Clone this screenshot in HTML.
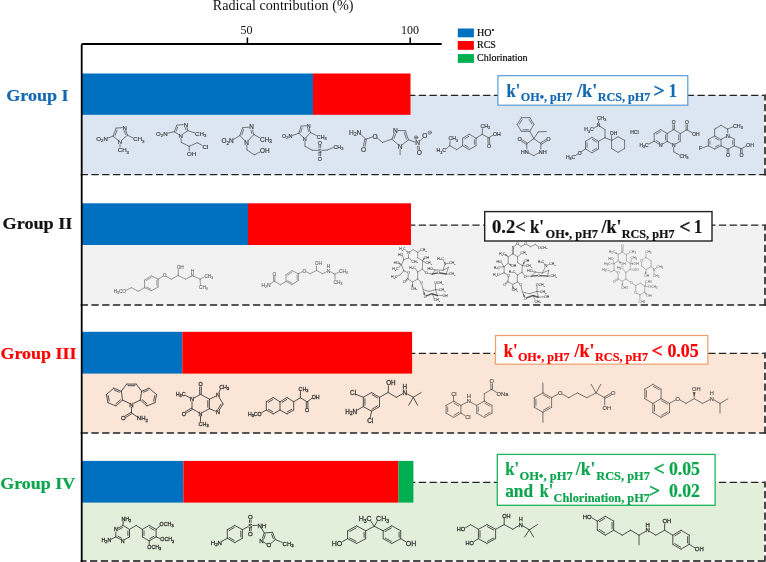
<!DOCTYPE html>
<html><head><meta charset="utf-8"><title>Radical contribution</title>
<style>html,body{margin:0;padding:0;background:#fff}svg{display:block}</style></head>
<body><svg width="766" height="562" viewBox="0 0 766 562">
<rect width="766" height="562" fill="#fff"/>
<rect x="82" y="95.3" width="682.2" height="79.39999999999999" fill="#dce6f2"/>
<path d="M408.05 95.3H765.8" fill="none" stroke="#222" stroke-width="1.3" stroke-dasharray="7.3 3.42"/>
<path d="M765.1 94.6V175.39999999999998" fill="none" stroke="#4a4a4a" stroke-width="2.2" stroke-dasharray="7.3 3.47" stroke-dashoffset="1.4"/>
<path d="M80.63 174.7H765.8" fill="none" stroke="#222" stroke-width="1.3" stroke-dasharray="7.3 3.47"/>
<rect x="82" y="225.2" width="682.2" height="79.80000000000001" fill="#f2f2f2"/>
<path d="M408.05 225.2H765.8" fill="none" stroke="#222" stroke-width="1.3" stroke-dasharray="7.3 3.42"/>
<path d="M765.1 224.5V305.7" fill="none" stroke="#4a4a4a" stroke-width="2.2" stroke-dasharray="7.3 3.47" stroke-dashoffset="1.4"/>
<path d="M80.63 305.0H765.8" fill="none" stroke="#222" stroke-width="1.3" stroke-dasharray="7.3 3.47"/>
<rect x="82" y="353.3" width="682.2" height="79.69999999999999" fill="#fbe5d6"/>
<path d="M408.05 353.3H765.8" fill="none" stroke="#222" stroke-width="1.3" stroke-dasharray="7.3 3.42"/>
<path d="M765.1 352.6V433.7" fill="none" stroke="#4a4a4a" stroke-width="2.2" stroke-dasharray="7.3 3.47" stroke-dashoffset="1.4"/>
<path d="M80.63 433.0H765.8" fill="none" stroke="#222" stroke-width="1.3" stroke-dasharray="7.3 3.47"/>
<rect x="82" y="482.3" width="682.2" height="78.40000000000003" fill="#e2efda"/>
<path d="M408.05 482.3H765.8" fill="none" stroke="#222" stroke-width="1.3" stroke-dasharray="7.3 3.42"/>
<path d="M765.1 481.6V561.4000000000001" fill="none" stroke="#4a4a4a" stroke-width="2.2" stroke-dasharray="7.3 3.47" stroke-dashoffset="1.4"/>
<path d="M80.63 561.0H765.8" fill="none" stroke="#4a4a4a" stroke-width="2.2" stroke-dasharray="7.3 3.47" stroke-dashoffset="1.4"/>
<rect x="82" y="73.5" width="231" height="41.3" fill="#0070c0"/>
<rect x="313" y="73.5" width="97.5" height="41.3" fill="#ff0000"/>
<rect x="82" y="203.3" width="166" height="41.69999999999999" fill="#0070c0"/>
<rect x="248" y="203.3" width="163" height="41.69999999999999" fill="#ff0000"/>
<rect x="82" y="331.8" width="100.30000000000001" height="41.80000000000001" fill="#0070c0"/>
<rect x="182.3" y="331.8" width="229.8" height="41.80000000000001" fill="#ff0000"/>
<rect x="82" y="460.9" width="101.4" height="41.700000000000045" fill="#0070c0"/>
<rect x="183.4" y="460.9" width="215.1" height="41.700000000000045" fill="#ff0000"/>
<rect x="398.5" y="460.9" width="14.899999999999977" height="41.700000000000045" fill="#00b050"/>
<path d="M81.7 562V45.2Q81.7 44 83 44H441.7" fill="none" stroke="#000" stroke-width="1.8"/>
<path d="M247.4 44V37.6M410.2 44V37.6" stroke="#000" stroke-width="1.5"/>
<text x="212.8" y="9.9" textLength="140.6" lengthAdjust="spacingAndGlyphs" font-family='"Liberation Serif", serif' font-size="14" fill="#111">Radical contribution (%)</text>
<text x="246.6" y="34.2" font-family='"Liberation Serif", serif' font-size="12" text-anchor="middle" fill="#111">50</text>
<text x="410" y="34.4" font-family='"Liberation Serif", serif' font-size="12" text-anchor="middle" fill="#111">100</text>
<rect x="457.8" y="28.5" width="16.1" height="8.8" fill="#0070c0"/>
<rect x="457.8" y="41" width="16.1" height="8.8" fill="#ff0000"/>
<rect x="457.8" y="54.1" width="16.1" height="8.8" fill="#00b050"/>
<text x="477" y="36.1" font-family='"Liberation Serif", serif' font-size="10" fill="#000" stroke="#000" stroke-width="0.15">HO<tspan dy="-3" font-size="8">•</tspan></text>
<text x="477" y="48.4" font-family='"Liberation Serif", serif' font-size="10" fill="#000" stroke="#000" stroke-width="0.15">RCS</text>
<text x="477" y="60.9" font-family='"Liberation Serif", serif' font-size="10" fill="#000" stroke="#000" stroke-width="0.15">Chlorination</text>
<text x="6.2" y="100.8" textLength="62.39999999999999" lengthAdjust="spacingAndGlyphs" font-family='"Liberation Serif", serif' font-weight="bold" font-size="17.5" fill="#1268b3" stroke="#1268b3" stroke-width="0.2">Group I</text>
<text x="2.5" y="229.2" textLength="69.9" lengthAdjust="spacingAndGlyphs" font-family='"Liberation Serif", serif' font-weight="bold" font-size="17.5" fill="#111" stroke="#111" stroke-width="0.2">Group II</text>
<text x="0.5" y="358.9" textLength="75.9" lengthAdjust="spacingAndGlyphs" font-family='"Liberation Serif", serif' font-weight="bold" font-size="17.5" fill="#ff0000" stroke="#ff0000" stroke-width="0.2">Group III</text>
<text x="0.2" y="488.9" textLength="74.89999999999999" lengthAdjust="spacingAndGlyphs" font-family='"Liberation Serif", serif' font-weight="bold" font-size="17.5" fill="#0ba54c" stroke="#0ba54c" stroke-width="0.2">Group IV</text>
<rect x="497.9" y="75.7" width="189.89999999999998" height="29.5" fill="#fff" stroke="#5b9bd5" stroke-width="1.2"/>
<text x="506.5" y="96.6" textLength="13.8" lengthAdjust="spacingAndGlyphs" font-family='"Liberation Serif", serif' font-weight="bold" font-size="17.8" fill="#1268b3" stroke="#1268b3" stroke-width="0.2">k'</text>
<text x="520.8" y="101.3" textLength="51.6" lengthAdjust="spacingAndGlyphs" font-family='"Liberation Serif", serif' font-weight="bold" font-size="13" fill="#1268b3" stroke="#1268b3" stroke-width="0.2">OH•, pH7</text>
<text x="577" y="96.6" textLength="20.2" lengthAdjust="spacingAndGlyphs" font-family='"Liberation Serif", serif' font-weight="bold" font-size="17.8" fill="#1268b3" stroke="#1268b3" stroke-width="0.2">/k'</text>
<text x="597.7" y="101.3" textLength="52.6" lengthAdjust="spacingAndGlyphs" font-family='"Liberation Serif", serif' font-weight="bold" font-size="13" fill="#1268b3" stroke="#1268b3" stroke-width="0.2">RCS, pH7</text>
<text x="653.8" y="96.6" textLength="10.8" lengthAdjust="spacingAndGlyphs" font-family='"Liberation Serif", serif' font-weight="bold" font-size="18.7" fill="#1268b3" stroke="#1268b3" stroke-width="0.45">&gt;</text>
<text x="668.8" y="96.6" textLength="8.2" lengthAdjust="spacingAndGlyphs" font-family='"Liberation Serif", serif' font-weight="bold" font-size="18.7" fill="#1268b3" stroke="#1268b3" stroke-width="0.2">1</text>
<rect x="484.7" y="211.6" width="227.3" height="29.400000000000006" fill="#fff" stroke="#222" stroke-width="1.4"/>
<text x="492.0" y="233.2" textLength="33.8" lengthAdjust="spacingAndGlyphs" font-family='"Liberation Serif", serif' font-weight="bold" font-size="18.7" fill="#111" stroke="#111" stroke-width="0.2">0.2&lt;</text>
<text x="530.0" y="233.2" textLength="14.0" lengthAdjust="spacingAndGlyphs" font-family='"Liberation Serif", serif' font-weight="bold" font-size="17.8" fill="#111" stroke="#111" stroke-width="0.2">k'</text>
<text x="545.5" y="238.3" textLength="52.5" lengthAdjust="spacingAndGlyphs" font-family='"Liberation Serif", serif' font-weight="bold" font-size="13" fill="#111" stroke="#111" stroke-width="0.2">OH•, pH7</text>
<text x="601.6" y="233.4" textLength="19.9" lengthAdjust="spacingAndGlyphs" font-family='"Liberation Serif", serif' font-weight="bold" font-size="17.8" fill="#111" stroke="#111" stroke-width="0.2">/k'</text>
<text x="621.7" y="238.3" textLength="52.9" lengthAdjust="spacingAndGlyphs" font-family='"Liberation Serif", serif' font-weight="bold" font-size="13" fill="#111" stroke="#111" stroke-width="0.2">RCS, pH7</text>
<text x="679.6" y="233.4" textLength="10.8" lengthAdjust="spacingAndGlyphs" font-family='"Liberation Serif", serif' font-weight="bold" font-size="18.7" fill="#111" stroke="#111" stroke-width="0.45">&lt;</text>
<text x="693.9" y="233.4" textLength="8.2" lengthAdjust="spacingAndGlyphs" font-family='"Liberation Serif", serif' font-weight="bold" font-size="18.7" fill="#111" stroke="#111" stroke-width="0.2">1</text>
<rect x="495.5" y="335.5" width="212.29999999999995" height="28.69999999999999" fill="#fff" stroke="#f0a070" stroke-width="1.25"/>
<text x="503.8" y="356.5" textLength="13.8" lengthAdjust="spacingAndGlyphs" font-family='"Liberation Serif", serif' font-weight="bold" font-size="17.8" fill="#ff0000" stroke="#ff0000" stroke-width="0.2">k'</text>
<text x="517.9" y="361.2" textLength="51.7" lengthAdjust="spacingAndGlyphs" font-family='"Liberation Serif", serif' font-weight="bold" font-size="13" fill="#ff0000" stroke="#ff0000" stroke-width="0.2">OH•, pH7</text>
<text x="574.6" y="356.5" textLength="20.0" lengthAdjust="spacingAndGlyphs" font-family='"Liberation Serif", serif' font-weight="bold" font-size="17.8" fill="#ff0000" stroke="#ff0000" stroke-width="0.2">/k'</text>
<text x="595.0" y="361.2" textLength="53.0" lengthAdjust="spacingAndGlyphs" font-family='"Liberation Serif", serif' font-weight="bold" font-size="13" fill="#ff0000" stroke="#ff0000" stroke-width="0.2">RCS, pH7</text>
<text x="651.8" y="356.5" textLength="10.8" lengthAdjust="spacingAndGlyphs" font-family='"Liberation Serif", serif' font-weight="bold" font-size="18.7" fill="#ff0000" stroke="#ff0000" stroke-width="0.45">&lt;</text>
<text x="667.4" y="356.5" textLength="31.3" lengthAdjust="spacingAndGlyphs" font-family='"Liberation Serif", serif' font-weight="bold" font-size="18.7" fill="#ff0000" stroke="#ff0000" stroke-width="0.2">0.05</text>
<rect x="497.3" y="454.4" width="217.8" height="50.900000000000034" fill="#fff" stroke="#1fb35f" stroke-width="1.3"/>
<text x="505.2" y="475.4" textLength="13.8" lengthAdjust="spacingAndGlyphs" font-family='"Liberation Serif", serif' font-weight="bold" font-size="17.8" fill="#0ba54c" stroke="#0ba54c" stroke-width="0.2">k'</text>
<text x="519.5" y="480.1" textLength="53.3" lengthAdjust="spacingAndGlyphs" font-family='"Liberation Serif", serif' font-weight="bold" font-size="13" fill="#0ba54c" stroke="#0ba54c" stroke-width="0.2">OH•, pH7</text>
<text x="575.8" y="475.4" textLength="19.5" lengthAdjust="spacingAndGlyphs" font-family='"Liberation Serif", serif' font-weight="bold" font-size="17.8" fill="#0ba54c" stroke="#0ba54c" stroke-width="0.2">/k'</text>
<text x="596.2" y="480.1" textLength="53.7" lengthAdjust="spacingAndGlyphs" font-family='"Liberation Serif", serif' font-weight="bold" font-size="13" fill="#0ba54c" stroke="#0ba54c" stroke-width="0.2">RCS, pH7</text>
<text x="653.7" y="475.4" textLength="10.8" lengthAdjust="spacingAndGlyphs" font-family='"Liberation Serif", serif' font-weight="bold" font-size="17.9" fill="#0ba54c" stroke="#0ba54c" stroke-width="0.45">&lt;</text>
<text x="668.9" y="475.4" textLength="31.1" lengthAdjust="spacingAndGlyphs" font-family='"Liberation Serif", serif' font-weight="bold" font-size="17.9" fill="#0ba54c" stroke="#0ba54c" stroke-width="0.2">0.05</text>
<text x="505.2" y="496.9" textLength="27.9" lengthAdjust="spacingAndGlyphs" font-family='"Liberation Serif", serif' font-weight="bold" font-size="17.8" fill="#0ba54c" stroke="#0ba54c" stroke-width="0.2">and</text>
<text x="539.8" y="496.9" textLength="13.4" lengthAdjust="spacingAndGlyphs" font-family='"Liberation Serif", serif' font-weight="bold" font-size="17.8" fill="#0ba54c" stroke="#0ba54c" stroke-width="0.2">k'</text>
<text x="553.6" y="501.6" textLength="96.3" lengthAdjust="spacingAndGlyphs" font-family='"Liberation Serif", serif' font-weight="bold" font-size="13" fill="#0ba54c" stroke="#0ba54c" stroke-width="0.2">Chlorination, pH7</text>
<text x="649.2" y="496.9" textLength="10.8" lengthAdjust="spacingAndGlyphs" font-family='"Liberation Serif", serif' font-weight="bold" font-size="17.9" fill="#0ba54c" stroke="#0ba54c" stroke-width="0.45">&gt;</text>
<text x="668.9" y="496.9" textLength="31.1" lengthAdjust="spacingAndGlyphs" font-family='"Liberation Serif", serif' font-weight="bold" font-size="17.9" fill="#0ba54c" stroke="#0ba54c" stroke-width="0.2">0.02</text>
<g stroke="#585858" fill="none" stroke-linecap="round" opacity="1">
<path stroke-width="0.8" d="M122.3 127.6L116.1 128.1M116.1 128.1L113.1 136.1M117.1 130.0L115.1 135.4M113.1 136.1L117.9 140.1M122.0 140.0L127.4 135.2M127.4 135.2L125.7 130.1M125.5 134.4L124.2 130.6M127.4 135.2L133.2 138.0M113.1 136.1L108.1 138.0M120.0 144.7L120.0 147.3"/>
</g>
<g font-family='"Liberation Sans", sans-serif' fill="#3c3c3c" stroke="#3c3c3c" stroke-width="0.18" opacity="1">
<text x="124.8" y="129.6" font-size="6.1" text-anchor="middle">N</text>
<text x="120.0" y="144.0" font-size="6.1" text-anchor="middle">N</text>
<text x="133.3" y="141.3" font-size="6.1" text-anchor="start">CH<tspan font-size="4.39" dy="1.34">3</tspan></text>
<text x="107.8" y="141.1" font-size="6.1" text-anchor="end">O<tspan font-size="4.39" dy="1.34">2</tspan><tspan dy="-1.34">N</tspan></text>
<text x="117.8" y="152.4" font-size="6.1" text-anchor="start">CH<tspan font-size="4.39" dy="1.34">3</tspan></text>
</g>
<g stroke="#585858" fill="none" stroke-linecap="round" opacity="1">
<path stroke-width="0.8" d="M183.3 124.6L176.8 125.2M176.8 125.2L174.2 131.7M177.7 127.1L176.2 131.0M174.2 131.7L178.4 134.3M182.9 134.1L187.9 130.7M187.9 130.7L186.8 127.2M185.9 129.8L185.2 127.6M187.9 130.7L194.8 132.9M174.2 131.7L167.9 133.1M181.0 138.5L181.3 142.4M181.3 142.4L189.2 146.3M189.2 146.3L189.2 150.8M189.2 146.3L197.3 142.7M197.3 142.7L202.3 145.4"/>
</g>
<g font-family='"Liberation Sans", sans-serif' fill="#3c3c3c" stroke="#3c3c3c" stroke-width="0.18" opacity="1">
<text x="185.9" y="126.6" font-size="6.1" text-anchor="middle">N</text>
<text x="180.7" y="137.8" font-size="6.1" text-anchor="middle">N</text>
<text x="195.1" y="135.9" font-size="6.1" text-anchor="start">CH<tspan font-size="4.39" dy="1.34">3</tspan></text>
<text x="167.6" y="135.9" font-size="6.1" text-anchor="end">O<tspan font-size="4.39" dy="1.34">2</tspan><tspan dy="-1.34">N</tspan></text>
<text x="187.0" y="156.0" font-size="6.1" text-anchor="start">OH</text>
<text x="202.4" y="148.9" font-size="6.1" text-anchor="start">Cl</text>
</g>
<g stroke="#585858" fill="none" stroke-linecap="round" opacity="1">
<path stroke-width="0.8" d="M248.9 127.2L242.7 127.7M242.7 127.7L239.8 135.6M243.7 129.6L241.8 134.8M239.8 135.6L244.5 140.2M248.6 140.1L253.9 134.6M253.9 134.6L252.5 129.9M251.9 133.7L250.9 130.4M253.9 134.6L259.8 137.8M239.8 135.6L233.7 139.4M246.7 145.2L247.0 150.0M247.0 150.0L254.2 154.8M254.2 154.8L259.9 152.1"/>
</g>
<g font-family='"Liberation Sans", sans-serif' fill="#3c3c3c" stroke="#3c3c3c" stroke-width="0.18" opacity="1">
<text x="251.6" y="129.3" font-size="6.4" text-anchor="middle">N</text>
<text x="246.6" y="144.5" font-size="6.4" text-anchor="middle">N</text>
<text x="260.0" y="141.5" font-size="6.4" text-anchor="start">CH<tspan font-size="4.61" dy="1.41">3</tspan></text>
<text x="233.6" y="143.2" font-size="6.4" text-anchor="end">O<tspan font-size="4.61" dy="1.41">2</tspan><tspan dy="-1.41">N</tspan></text>
<text x="260.1" y="153.2" font-size="6.4" text-anchor="start">OH</text>
</g>
<g stroke="#585858" fill="none" stroke-linecap="round" opacity="1">
<path stroke-width="0.8" d="M306.4 125.8L301.1 126.1M301.1 126.1L298.8 133.3M302.2 128.0L300.7 132.4M298.8 133.3L303.0 137.1M306.4 137.0L310.5 132.6M310.5 132.6L309.3 128.2M308.6 131.6L307.8 128.6M310.5 132.6L316.6 135.5M298.8 133.3L292.6 135.4M304.9 141.3L305.0 146.3M305.0 146.3L312.2 150.2M312.2 150.2L317.5 150.4M320.6 147.9L320.6 145.3M319.0 147.9L319.0 145.3M319.0 153.1L319.0 156.1M320.6 153.1L320.6 156.1M322.0 150.4L327.2 150.0M327.2 150.0L333.2 147.6"/>
</g>
<g font-family='"Liberation Sans", sans-serif' fill="#3c3c3c" stroke="#3c3c3c" stroke-width="0.18" opacity="1">
<text x="308.7" y="127.6" font-size="5.4" text-anchor="middle">N</text>
<text x="304.8" y="140.7" font-size="5.4" text-anchor="middle">N</text>
<text x="316.8" y="138.5" font-size="5.4" text-anchor="start">CH<tspan font-size="3.89" dy="1.19">3</tspan></text>
<text x="292.3" y="138.1" font-size="5.4" text-anchor="end">O<tspan font-size="3.89" dy="1.19">2</tspan><tspan dy="-1.19">N</tspan></text>
<text x="319.8" y="152.5" font-size="5.4" text-anchor="middle">S</text>
<text x="319.8" y="144.6" font-size="5.4" text-anchor="middle">O</text>
<text x="319.8" y="160.7" font-size="5.4" text-anchor="middle">O</text>
<text x="333.4" y="148.7" font-size="5.4" text-anchor="start">CH<tspan font-size="3.89" dy="1.19">3</tspan></text>
</g>
<g stroke="#585858" fill="none" stroke-linecap="round" opacity="1">
<path stroke-width="0.8" d="M361.1 134.7L365.7 139.2M364.9 139.0L363.4 146.0M366.5 139.3L365.0 146.3M365.7 139.2L372.3 137.0M377.2 138.0L382.4 142.4M382.4 142.4L392.0 139.2M392.0 139.2L394.3 133.3M394.0 138.4L395.8 133.9M398.3 130.5L405.3 130.7M405.3 130.7L408.5 139.8M404.3 132.6L406.5 139.0M408.5 139.8L402.4 144.6M397.9 144.4L392.0 139.2M400.1 149.5L400.1 154.8M408.5 139.8L415.0 142.1M419.8 141.0L422.8 138.0M417.4 146.3L418.0 149.6M419.0 146.0L419.6 149.4"/>
<path stroke-width="0.64" d="M415.1 137.5L417.1 137.5M416.1 136.4L416.1 138.5M428.8 132.6L430.8 132.6"/>
<circle cx="416.1" cy="137.5" r="1.7" stroke-width="0.6400000000000001"/>
<circle cx="429.8" cy="132.6" r="1.7" stroke-width="0.6400000000000001"/>
</g>
<g font-family='"Liberation Sans", sans-serif' fill="#3c3c3c" stroke="#3c3c3c" stroke-width="0.18" opacity="1">
<text x="361.3" y="135.0" font-size="6.6" text-anchor="end">H<tspan font-size="4.75" dy="1.45">2</tspan><tspan dy="-1.45">N</tspan></text>
<text x="363.5" y="151.6" font-size="6.6" text-anchor="middle">O</text>
<text x="375.0" y="138.5" font-size="6.6" text-anchor="middle">O</text>
<text x="395.5" y="132.8" font-size="6.6" text-anchor="middle">N</text>
<text x="400.1" y="148.7" font-size="6.6" text-anchor="middle">N</text>
<text x="417.7" y="145.4" font-size="6.6" text-anchor="middle">N</text>
<text x="424.9" y="138.3" font-size="6.6" text-anchor="middle">O</text>
<text x="419.4" y="155.0" font-size="6.6" text-anchor="middle">O</text>
</g>
<g stroke="#585858" fill="none" stroke-linecap="round" opacity="1">
<path stroke-width="0.8" d="M445.9 149.0L449.8 145.7M449.8 145.7L450.1 141.0M449.8 145.7L456.8 149.6M456.8 149.6L462.6 145.7M462.6 145.7L462.6 138.2M462.6 138.2L469.2 134.2M464.7 138.8L468.8 136.3M469.2 134.2L476.0 138.2M476.0 138.2L476.0 145.7M474.4 139.7L474.4 144.2M476.0 145.7L469.2 149.6M469.2 149.6L462.6 145.7M468.8 147.5L464.7 145.0M476.0 138.2L482.2 134.3M482.2 134.3L482.4 128.6M482.2 134.3L488.7 137.8M488.7 137.8L493.0 135.1M487.9 137.9L488.1 143.9M489.5 137.8L489.7 143.8"/>
</g>
<g font-family='"Liberation Sans", sans-serif' fill="#3c3c3c" stroke="#3c3c3c" stroke-width="0.18" opacity="1">
<text x="446.0" y="152.4" font-size="5.2" text-anchor="end">H<tspan font-size="3.74" dy="1.14">3</tspan><tspan dy="-1.14">C</tspan></text>
<text x="448.4" y="140.4" font-size="5.2" text-anchor="start">CH<tspan font-size="3.74" dy="1.14">3</tspan></text>
<text x="480.6" y="128.0" font-size="5.2" text-anchor="start">CH<tspan font-size="3.74" dy="1.14">3</tspan></text>
<text x="493.0" y="135.8" font-size="5.2" text-anchor="start">OH</text>
<text x="489.0" y="148.2" font-size="5.2" text-anchor="middle">O</text>
</g>
<g stroke="#585858" fill="none" stroke-linecap="round" opacity="1">
<path stroke-width="0.8" d="M521.5 117.7L529.9 117.6M529.9 117.6L533.9 124.5M529.2 119.6L531.8 124.1M533.9 124.5L529.8 131.3M529.8 131.3L521.5 131.4M528.3 129.7L523.0 129.8M521.5 131.4L517.2 124.5M517.2 124.5L521.5 117.7M519.4 124.1L522.1 119.8M529.8 131.3L533.9 138.6M533.9 138.6L538.3 131.8M538.3 131.8L546.5 131.5M533.9 138.6L526.8 143.7M527.2 143.0L522.0 139.7M526.3 144.4L521.2 141.1M533.9 138.6L540.9 143.7M541.3 144.4L546.8 140.9M540.4 143.0L546.0 139.6M526.8 143.7L526.8 149.1M540.9 143.7L540.8 149.1M528.8 152.9L533.7 155.7M538.7 152.9L533.7 155.7"/>
</g>
<g font-family='"Liberation Sans", sans-serif' fill="#3c3c3c" stroke="#3c3c3c" stroke-width="0.18" opacity="1">
<text x="519.6" y="141.1" font-size="5.5" text-anchor="middle">O</text>
<text x="548.4" y="141.0" font-size="5.5" text-anchor="middle">O</text>
<text x="528.7" y="153.8" font-size="5.5" text-anchor="end">HN</text>
<text x="538.8" y="153.8" font-size="5.5" text-anchor="start">NH</text>
</g>
<g stroke="#585858" fill="none" stroke-linecap="round" opacity="1">
<path stroke-width="0.8" d="M598.6 123.0L598.7 120.5M596.7 126.5L593.6 128.4M600.3 126.6L605.0 129.6M605.0 129.6L605.0 137.7M605.0 137.7L611.6 140.3M611.6 140.3L611.6 148.5M611.6 148.5L618.1 152.4M618.1 152.4L624.6 148.5M624.6 148.5L624.6 140.3M624.6 140.3L618.1 136.8M618.1 136.8L611.6 140.3M611.6 140.3L611.6 135.6M605.0 137.7L598.5 141.3M598.5 141.3L592.0 137.4M596.5 142.0L592.4 139.5M592.0 137.4L585.5 141.3M585.5 141.3L585.5 148.9M587.1 142.8L587.1 147.5M585.5 148.9L592.0 152.8M592.0 152.8L598.5 148.9M592.4 150.7L596.5 148.3M598.5 148.9L598.5 141.3M585.5 148.9L581.4 151.6M577.7 154.0L575.3 155.6"/>
</g>
<g font-family='"Liberation Sans", sans-serif' fill="#3c3c3c" stroke="#3c3c3c" stroke-width="0.18" opacity="1">
<text x="598.5" y="127.2" font-size="5.0" text-anchor="middle">N</text>
<text x="597.0" y="119.9" font-size="5.0" text-anchor="start">CH<tspan font-size="3.6" dy="1.1">3</tspan></text>
<text x="593.5" y="131.4" font-size="5.0" text-anchor="end">H<tspan font-size="3.6" dy="1.1">3</tspan><tspan dy="-1.1">C</tspan></text>
<text x="609.8" y="135.0" font-size="5.0" text-anchor="start">OH</text>
<text x="579.6" y="154.6" font-size="5.0" text-anchor="middle">O</text>
<text x="575.2" y="158.5" font-size="5.0" text-anchor="end">H<tspan font-size="3.6" dy="1.1">3</tspan><tspan dy="-1.1">C</tspan></text>
<text x="634.4" y="134.3" font-size="5.0" text-anchor="middle">HCl</text>
</g>
<g stroke="#585858" fill="none" stroke-linecap="round" opacity="1">
<path stroke-width="0.8" d="M654.2 133.5L660.7 129.6M656.2 134.1L660.3 131.7M660.7 129.6L667.2 133.5M667.2 133.5L667.2 141.3M665.6 134.9L665.6 139.9M667.2 141.3L662.5 144.0M658.8 144.0L654.2 141.3M659.6 142.6L656.2 140.6M654.2 141.3L654.2 133.5M654.2 141.3L648.6 144.1M667.2 133.5L673.7 129.6M674.5 129.6L674.5 124.8M672.9 129.6L672.9 124.8M673.7 129.6L680.3 133.5M680.3 133.5L680.3 141.3M678.7 134.9L678.7 139.9M680.3 141.3L675.6 144.0M671.9 144.0L667.2 141.3M680.3 133.5L686.8 129.8M687.6 129.8L687.6 124.8M686.0 129.8L686.0 124.8M686.8 129.8L692.1 132.7M673.7 147.3L673.7 151.8M673.7 151.8L679.3 154.9"/>
</g>
<g font-family='"Liberation Sans", sans-serif' fill="#3c3c3c" stroke="#3c3c3c" stroke-width="0.18" opacity="1">
<text x="660.7" y="146.8" font-size="4.9" text-anchor="middle">N</text>
<text x="648.5" y="146.8" font-size="4.9" text-anchor="end">H<tspan font-size="3.53" dy="1.08">3</tspan><tspan dy="-1.08">C</tspan></text>
<text x="673.7" y="124.2" font-size="4.9" text-anchor="middle">O</text>
<text x="673.7" y="146.8" font-size="4.9" text-anchor="middle">N</text>
<text x="686.8" y="124.2" font-size="4.9" text-anchor="middle">O</text>
<text x="692.2" y="135.5" font-size="4.9" text-anchor="start">OH</text>
<text x="679.4" y="157.7" font-size="4.9" text-anchor="start">CH<tspan font-size="3.53" dy="1.08">3</tspan></text>
</g>
<g stroke="#585858" fill="none" stroke-linecap="round" opacity="1">
<path stroke-width="0.8" d="M714.7 129.1L721.0 125.3M721.0 125.3L727.6 129.1M727.6 129.1L727.8 133.1M726.0 136.8L721.0 139.5M721.0 139.5L714.7 136.0M719.0 140.2L715.2 138.1M714.7 136.0L714.7 129.1M727.6 129.1L732.8 126.8M714.7 136.0L708.3 139.5M708.3 139.5L708.3 145.8M709.9 140.9L709.9 144.4M708.3 145.8L714.7 149.1M714.7 149.1L721.0 145.8M715.2 147.0L719.0 145.1M721.0 145.8L721.0 139.5M708.3 145.8L702.7 147.8M730.0 136.8L734.3 139.1M734.3 139.1L734.3 145.8M732.7 140.6L732.7 144.4M734.3 145.8L728.0 149.1M728.0 149.1L721.0 145.8M727.2 149.1L727.2 152.9M728.8 149.1L728.8 152.9M734.3 145.8L741.3 148.7M740.5 148.8L740.6 152.9M742.1 148.7L742.2 152.9M741.3 148.7L745.9 146.3"/>
</g>
<g font-family='"Liberation Sans", sans-serif' fill="#3c3c3c" stroke="#3c3c3c" stroke-width="0.18" opacity="1">
<text x="728.0" y="137.6" font-size="5.3" text-anchor="middle">N</text>
<text x="733.0" y="127.9" font-size="5.3" text-anchor="start">CH<tspan font-size="3.82" dy="1.17">3</tspan></text>
<text x="700.6" y="150.4" font-size="5.3" text-anchor="middle">F</text>
<text x="728.0" y="157.3" font-size="5.3" text-anchor="middle">O</text>
<text x="741.5" y="157.3" font-size="5.3" text-anchor="middle">O</text>
<text x="746.1" y="147.2" font-size="5.3" text-anchor="start">OH</text>
</g>
<g stroke="#727272" fill="none" stroke-linecap="round" opacity="1">
<path stroke-width="0.7" d="M126.1 290.3L131.4 287.7M131.4 287.7L138.2 291.2M138.2 291.2L144.5 287.7M144.5 287.7L144.5 280.2M144.5 280.2L151.3 275.8M146.2 280.7L151.0 277.5M151.3 275.8L158.2 279.2M158.2 279.2L158.2 287.0M156.9 280.4L156.9 285.8M158.2 287.0L151.3 290.7M151.3 290.7L144.5 287.7M150.7 289.1L146.1 287.0M158.2 279.2L162.7 276.5M166.3 276.4L171.3 279.2M171.3 279.2L178.1 275.5M178.1 275.5L178.3 269.7M178.1 275.5L185.7 279.2M185.7 279.2L190.7 276.4M194.3 276.3L200.1 279.2M200.1 279.2L204.3 276.8M200.1 279.2L200.5 285.4"/>
</g>
<g font-family='"Liberation Sans", sans-serif' fill="#5a5a5a" stroke="#5a5a5a" stroke-width="0.08" opacity="1">
<text x="126.0" y="292.9" font-size="4.7" text-anchor="end">H<tspan font-size="3.38" dy="1.03">3</tspan><tspan dy="-1.03">CO</tspan></text>
<text x="164.5" y="277.2" font-size="4.7" text-anchor="middle">O</text>
<text x="176.7" y="269.2" font-size="4.7" text-anchor="start">OH</text>
<text x="192.5" y="277.2" font-size="4.7" text-anchor="middle">N</text>
<text x="204.4" y="277.5" font-size="4.7" text-anchor="start">CH<tspan font-size="3.38" dy="1.03">3</tspan></text>
<text x="199.0" y="289.4" font-size="4.7" text-anchor="start">CH<tspan font-size="3.38" dy="1.03">3</tspan></text>
<text x="192.5" y="272.9" font-size="4.7" text-anchor="middle">H</text>
</g>
<g stroke="#727272" fill="none" stroke-linecap="round" opacity="1">
<path stroke-width="0.7" d="M270.4 283.9L274.3 281.1M274.9 281.1L274.9 276.1M273.6 281.1L273.6 276.1M274.3 281.1L280.5 284.8M280.5 284.8L286.0 281.4M286.0 281.4L286.0 274.6M286.0 274.6L292.1 270.7M287.7 275.1L291.8 272.4M292.1 270.7L298.4 273.8M298.4 273.8L298.4 280.5M297.1 274.9L297.1 279.4M298.4 280.5L292.1 284.5M292.1 284.5L286.0 281.4M291.6 282.8L287.6 280.8M298.4 273.8L302.5 271.7M306.2 271.7L310.3 273.8M310.3 273.8L316.5 270.4M316.5 270.4L316.5 265.9M316.5 270.4L322.6 273.8M322.6 273.8L326.6 271.7M330.3 271.7L334.9 274.1M334.9 274.1L338.9 272.1M334.9 274.1L335.1 279.4"/>
</g>
<g font-family='"Liberation Sans", sans-serif' fill="#5a5a5a" stroke="#5a5a5a" stroke-width="0.08" opacity="1">
<text x="270.4" y="286.9" font-size="4.85" text-anchor="end">H<tspan font-size="3.49" dy="1.07">2</tspan><tspan dy="-1.07">N</tspan></text>
<text x="274.3" y="275.5" font-size="4.85" text-anchor="middle">O</text>
<text x="304.3" y="272.5" font-size="4.85" text-anchor="middle">O</text>
<text x="314.8" y="265.3" font-size="4.85" text-anchor="start">OH</text>
<text x="328.4" y="272.5" font-size="4.85" text-anchor="middle">N</text>
<text x="339.1" y="273.0" font-size="4.85" text-anchor="start">CH<tspan font-size="3.49" dy="1.07">3</tspan></text>
<text x="333.5" y="283.5" font-size="4.85" text-anchor="start">CH<tspan font-size="3.49" dy="1.07">3</tspan></text>
<text x="328.4" y="268.4" font-size="4.85" text-anchor="middle">H</text>
</g>
<g stroke="#5a5a5a" fill="none" stroke-linecap="round" opacity="1">
<path stroke-width="0.6" d="M407.4 252.0L405.5 250.0M409.7 252.2L413.2 249.6M413.2 249.6L417.7 252.3M417.7 252.3L420.2 250.5M417.7 252.3L417.7 257.9M417.7 257.9L422.6 260.8M422.6 260.8L425.4 262.4M422.6 260.8L422.4 269.0M422.4 269.0L425.1 272.0M422.4 269.0L417.7 272.0M417.7 272.0L415.3 268.6M417.7 272.0L417.7 279.0M417.7 279.0L420.3 281.5M417.7 279.0L412.6 282.0M412.6 282.0L407.9 279.0M407.6 278.6L405.2 280.5M408.3 279.4L405.9 281.4M407.9 279.0L408.3 274.5M407.1 272.2L403.8 270.8M403.8 270.8L400.3 274.9M400.3 274.9L397.5 276.1M403.8 270.8L401.5 264.9M401.5 264.9L398.5 267.7M401.5 264.9L403.8 259.6M403.8 259.6L402.6 255.9M403.8 259.6L408.5 257.9M408.5 257.9L411.4 260.4M408.5 257.9L408.5 254.8M427.6 273.3L432.2 274.0M432.2 274.0L435.3 270.0M435.3 270.0L443.2 270.2M443.2 270.2L448.5 267.3M448.5 267.3L446.1 274.0M435.3 270.0L432.8 269.2M443.2 270.2L444.5 265.3M444.3 262.2L443.2 259.9M446.4 263.6L448.8 263.3M446.1 274.0L448.7 274.0M421.8 284.2L423.2 289.6M437.3 295.5L435.5 289.6M435.5 289.6L429.1 291.4M429.1 291.4L423.2 289.6M435.5 289.6L435.5 284.2M435.5 289.6L438.8 290.0M437.3 295.5L442.3 295.5M432.0 293.7L434.3 298.7"/>
<path stroke-width="1.44" d="M446.1 274.0L439.9 273.0M437.0 273.1L432.2 274.0M426.4 295.8L432.0 293.7M432.0 293.7L437.3 295.5"/>
<path fill="#5a5a5a" stroke="none" d="M422.6 260.8L424.9 259.1L423.3 258.1Z"/>
<path fill="#5a5a5a" stroke="none" d="M412.6 282.0L411.4 286.7L413.3 286.8Z"/>
<path fill="#5a5a5a" stroke="none" d="M401.5 264.9L399.7 262.4L398.6 263.9Z"/>
<path fill="#5a5a5a" stroke="none" d="M423.2 289.6L423.6 294.9L425.5 294.4Z"/>
</g>
<g font-family='"Liberation Sans", sans-serif' fill="#505050" stroke="#505050" stroke-width="0.1" opacity="1">
<text x="408.5" y="254.4" font-size="3.5" text-anchor="middle">N</text>
<text x="405.6" y="250.1" font-size="3.5" text-anchor="end">H<tspan font-size="2.52" dy="0.77">3</tspan><tspan dy="-0.77">C</tspan></text>
<text x="420.2" y="250.9" font-size="3.5" text-anchor="start">CH<tspan font-size="2.52" dy="0.77">3</tspan></text>
<text x="423.7" y="258.5" font-size="3.5" text-anchor="start">OH</text>
<text x="425.5" y="264.4" font-size="3.5" text-anchor="start">CH<tspan font-size="2.52" dy="0.77">3</tspan></text>
<text x="426.1" y="274.4" font-size="3.5" text-anchor="middle">O</text>
<text x="415.6" y="268.5" font-size="3.5" text-anchor="end">H<tspan font-size="2.52" dy="0.77">3</tspan><tspan dy="-0.77">C</tspan></text>
<text x="421.4" y="283.8" font-size="3.5" text-anchor="middle">O</text>
<text x="411.0" y="289.7" font-size="3.5" text-anchor="start">CH<tspan font-size="2.52" dy="0.77">3</tspan></text>
<text x="404.4" y="283.2" font-size="3.5" text-anchor="middle">O</text>
<text x="408.5" y="274.0" font-size="3.5" text-anchor="middle">O</text>
<text x="397.4" y="277.9" font-size="3.5" text-anchor="end">H<tspan font-size="2.52" dy="0.77">3</tspan><tspan dy="-0.77">C</tspan></text>
<text x="399.2" y="263.5" font-size="3.5" text-anchor="end">HO</text>
<text x="398.6" y="270.1" font-size="3.5" text-anchor="end">H<tspan font-size="2.52" dy="0.77">3</tspan><tspan dy="-0.77">C</tspan></text>
<text x="403.3" y="255.6" font-size="3.5" text-anchor="end">HO</text>
<text x="411.4" y="262.6" font-size="3.5" text-anchor="start">CH<tspan font-size="2.52" dy="0.77">3</tspan></text>
<text x="438.5" y="274.0" font-size="3.5" text-anchor="middle">O</text>
<text x="432.7" y="270.1" font-size="3.5" text-anchor="end">HO</text>
<text x="444.9" y="265.0" font-size="3.5" text-anchor="middle">N</text>
<text x="443.8" y="259.7" font-size="3.5" text-anchor="end">H<tspan font-size="2.52" dy="0.77">3</tspan><tspan dy="-0.77">C</tspan></text>
<text x="449.0" y="264.4" font-size="3.5" text-anchor="start">CH<tspan font-size="2.52" dy="0.77">3</tspan></text>
<text x="449.0" y="275.2" font-size="3.5" text-anchor="start">CH<tspan font-size="2.52" dy="0.77">3</tspan></text>
<text x="425.0" y="297.5" font-size="3.5" text-anchor="middle">O</text>
<text x="434.3" y="283.8" font-size="3.5" text-anchor="start">OCH<tspan font-size="2.52" dy="0.77">3</tspan></text>
<text x="439.0" y="291.4" font-size="3.5" text-anchor="start">CH<tspan font-size="2.52" dy="0.77">3</tspan></text>
<text x="442.5" y="296.7" font-size="3.5" text-anchor="start">OH</text>
<text x="433.7" y="301.4" font-size="3.5" text-anchor="start">CH<tspan font-size="2.52" dy="0.77">3</tspan></text>
</g>
<g stroke="#5a5a5a" fill="none" stroke-linecap="round" opacity="1">
<path stroke-width="0.6" d="M513.5 253.8L513.5 249.3M512.4 253.8L512.4 249.3M514.1 246.6L516.1 244.8M518.5 244.6L521.1 246.5M521.1 246.5L524.5 244.5M527.1 244.6L530.5 246.7M530.5 246.7L535.2 244.4M535.2 244.4L538.1 246.4M512.9 253.8L517.6 256.7M517.6 256.7L520.6 254.2M517.6 256.7L517.6 262.6M517.6 262.6L522.3 265.5M522.3 265.5L525.6 265.9M522.3 265.5L522.0 272.3M522.0 272.3L524.1 275.0M522.0 272.3L517.3 275.1M517.3 275.1L515.1 272.6M517.3 275.1L517.3 282.0M517.3 282.0L519.6 283.6M517.3 282.0L512.9 284.5M512.9 284.5L507.9 281.7M507.5 281.3L505.5 282.9M508.2 282.1L506.2 283.8M507.9 281.7L508.4 277.2M507.3 274.7L504.1 272.8M504.1 272.8L499.6 274.6M504.1 272.8L504.1 266.7M504.1 266.7L501.5 262.7M504.1 266.7L500.3 267.1M504.1 266.7L508.2 263.2M508.2 263.2L508.2 256.7M508.2 256.7L512.9 253.8M526.5 276.3L531.7 276.1M531.7 276.1L535.2 272.0M535.2 272.0L542.3 273.1M542.3 273.1L548.8 270.2M548.8 270.2L547.6 276.1M535.2 272.0L532.6 271.4M542.3 273.1L545.1 267.5M545.0 264.7L543.7 262.8M547.2 265.4L549.2 264.4M547.6 276.1L550.2 276.1M521.1 286.2L522.3 291.9M538.2 297.2L537.0 291.4M537.0 291.4L529.4 293.7M529.4 293.7L522.3 291.9M537.0 291.4L537.0 286.2M537.0 291.4L539.7 291.7M538.2 297.2L543.8 296.8M532.9 295.5L535.1 299.9"/>
<path stroke-width="1.44" d="M547.6 276.1L540.2 275.6M537.3 275.6L531.7 276.1M526.6 297.9L532.9 295.5M532.9 295.5L538.2 297.2"/>
<path fill="#5a5a5a" stroke="none" d="M522.3 265.5L525.2 262.7L523.6 261.7Z"/>
<path fill="#5a5a5a" stroke="none" d="M512.9 284.5L512.0 288.5L513.9 288.5Z"/>
<path fill="#5a5a5a" stroke="none" d="M508.2 263.2L510.5 266.0L511.6 264.4Z"/>
<path fill="#5a5a5a" stroke="none" d="M508.2 256.7L505.9 253.7L504.7 255.2Z"/>
<path fill="#5a5a5a" stroke="none" d="M522.3 291.9L523.7 297.3L525.4 296.5Z"/>
</g>
<g font-family='"Liberation Sans", sans-serif' fill="#505050" stroke="#505050" stroke-width="0.1" opacity="1">
<text x="512.9" y="248.9" font-size="3.5" text-anchor="middle">N</text>
<text x="517.3" y="245.0" font-size="3.5" text-anchor="middle">O</text>
<text x="525.8" y="245.0" font-size="3.5" text-anchor="middle">O</text>
<text x="538.1" y="248.5" font-size="3.5" text-anchor="start">OCH<tspan font-size="2.52" dy="0.77">3</tspan></text>
<text x="520.5" y="254.4" font-size="3.5" text-anchor="start">CH<tspan font-size="2.52" dy="0.77">3</tspan></text>
<text x="524.0" y="262.1" font-size="3.5" text-anchor="start">OH</text>
<text x="525.8" y="267.3" font-size="3.5" text-anchor="start">CH<tspan font-size="2.52" dy="0.77">3</tspan></text>
<text x="525.0" y="277.6" font-size="3.5" text-anchor="middle">O</text>
<text x="515.3" y="272.6" font-size="3.5" text-anchor="end">H<tspan font-size="2.52" dy="0.77">3</tspan><tspan dy="-0.77">C</tspan></text>
<text x="520.8" y="285.8" font-size="3.5" text-anchor="middle">O</text>
<text x="511.7" y="291.4" font-size="3.5" text-anchor="start">CH<tspan font-size="2.52" dy="0.77">3</tspan></text>
<text x="504.7" y="285.6" font-size="3.5" text-anchor="middle">O</text>
<text x="508.6" y="276.8" font-size="3.5" text-anchor="middle">O</text>
<text x="499.5" y="276.4" font-size="3.5" text-anchor="end">H<tspan font-size="2.52" dy="0.77">3</tspan><tspan dy="-0.77">C</tspan></text>
<text x="501.8" y="262.6" font-size="3.5" text-anchor="end">HO</text>
<text x="500.1" y="268.5" font-size="3.5" text-anchor="end">H<tspan font-size="2.52" dy="0.77">3</tspan><tspan dy="-0.77">C</tspan></text>
<text x="511.1" y="267.3" font-size="3.5" text-anchor="start">OH</text>
<text x="505.4" y="254.8" font-size="3.5" text-anchor="end">H<tspan font-size="2.52" dy="0.77">3</tspan><tspan dy="-0.77">C</tspan></text>
<text x="538.8" y="276.8" font-size="3.5" text-anchor="middle">O</text>
<text x="532.4" y="272.4" font-size="3.5" text-anchor="end">HO</text>
<text x="545.8" y="267.3" font-size="3.5" text-anchor="middle">N</text>
<text x="544.1" y="262.6" font-size="3.5" text-anchor="end">H<tspan font-size="2.52" dy="0.77">3</tspan><tspan dy="-0.77">C</tspan></text>
<text x="549.3" y="265.0" font-size="3.5" text-anchor="start">CH<tspan font-size="2.52" dy="0.77">3</tspan></text>
<text x="550.4" y="277.3" font-size="3.5" text-anchor="start">CH<tspan font-size="2.52" dy="0.77">3</tspan></text>
<text x="525.3" y="299.7" font-size="3.5" text-anchor="middle">O</text>
<text x="535.7" y="285.8" font-size="3.5" text-anchor="start">OCH<tspan font-size="2.52" dy="0.77">3</tspan></text>
<text x="539.9" y="293.2" font-size="3.5" text-anchor="start">CH<tspan font-size="2.52" dy="0.77">3</tspan></text>
<text x="544.0" y="297.9" font-size="3.5" text-anchor="start">OH</text>
<text x="534.6" y="302.6" font-size="3.5" text-anchor="start">CH<tspan font-size="2.52" dy="0.77">3</tspan></text>
</g>
<g stroke="#8a8a8a" fill="none" stroke-linecap="round" opacity="1">
<path stroke-width="0.6" d="M622.9 252.0L622.9 247.3M621.8 252.0L621.8 247.3M622.3 252.0L626.4 254.9M626.4 254.9L629.3 252.9M626.4 254.9L626.4 260.8M626.4 260.8L630.5 263.7M630.5 263.7L631.4 259.5M630.5 263.7L630.0 269.6M630.0 269.6L625.8 272.6M625.8 272.6L623.3 269.4M625.8 272.6L625.8 279.0M625.8 279.0L629.8 281.7M625.8 279.0L622.3 281.4M622.3 281.4L618.2 279.0M617.9 278.5L615.2 280.1M618.5 279.5L615.7 281.1M618.2 279.0L618.2 274.5M616.9 272.0L614.1 270.2M614.1 270.2L610.6 272.0M610.6 272.0L608.9 270.6M614.1 270.2L614.1 263.7M614.1 263.7L612.9 260.1M614.1 263.7L610.9 263.7M614.1 263.7L618.2 260.8M618.2 260.8L618.2 254.3M618.2 254.3L622.3 252.0M642.9 259.6L645.8 257.3M645.8 257.3L646.1 253.7M645.8 257.3L651.1 260.8M651.1 260.8L651.1 266.7M651.1 266.7L652.9 268.5M655.3 268.7L656.7 267.6M654.0 271.3L654.0 273.8M651.1 266.7L646.2 269.6M646.2 269.6L641.7 266.1M641.7 266.1L641.7 262.3M632.5 283.4L635.8 285.5M635.8 285.5L640.5 283.1M640.5 283.1L645.0 286.1M645.0 286.1L645.9 283.0M645.0 286.1L647.8 286.5M645.0 286.1L644.6 291.9M644.6 291.9L639.9 294.9M639.9 294.9L639.9 299.6M639.9 294.9L637.0 293.3M635.7 290.8L635.8 285.5"/>
<path stroke-width="0.48" d="M630.6 269.3L630.6 269.9M631.8 269.1L631.8 270.1M633.0 268.9L633.0 270.4M634.2 268.7L634.2 270.6M635.5 268.4L635.5 270.8"/>
<path fill="#8a8a8a" stroke="none" d="M630.5 263.7L633.1 264.7L633.1 262.8Z"/>
<path fill="#8a8a8a" stroke="none" d="M622.3 281.4L621.4 285.5L623.3 285.5Z"/>
<path fill="#8a8a8a" stroke="none" d="M618.2 260.8L619.9 263.5L621.1 262.0Z"/>
<path fill="#8a8a8a" stroke="none" d="M618.2 254.3L615.9 251.9L615.0 253.6Z"/>
<path fill="#8a8a8a" stroke="none" d="M646.2 269.6L644.6 273.6L646.4 273.9Z"/>
<path fill="#8a8a8a" stroke="none" d="M644.6 291.9L645.8 294.8L647.3 293.6Z"/>
</g>
<g font-family='"Liberation Sans", sans-serif' fill="#777" stroke="#777" stroke-width="0.05" opacity="1">
<text x="622.3" y="246.8" font-size="3.6" text-anchor="middle">O</text>
<text x="629.2" y="253.3" font-size="3.6" text-anchor="start">CH<tspan font-size="2.59" dy="0.79">3</tspan></text>
<text x="630.4" y="259.2" font-size="3.6" text-anchor="start">CH<tspan font-size="2.59" dy="0.79">3</tspan></text>
<text x="633.4" y="265.0" font-size="3.6" text-anchor="start">OH</text>
<text x="637.6" y="270.9" font-size="3.6" text-anchor="middle">O</text>
<text x="623.6" y="269.4" font-size="3.6" text-anchor="end">H<tspan font-size="2.59" dy="0.79">3</tspan><tspan dy="-0.79">C</tspan></text>
<text x="631.1" y="283.8" font-size="3.6" text-anchor="middle">O</text>
<text x="621.0" y="288.5" font-size="3.6" text-anchor="start">CH<tspan font-size="2.59" dy="0.79">3</tspan></text>
<text x="614.1" y="282.7" font-size="3.6" text-anchor="middle">O</text>
<text x="618.2" y="274.1" font-size="3.6" text-anchor="middle">O</text>
<text x="608.9" y="270.9" font-size="3.6" text-anchor="end">H<tspan font-size="2.59" dy="0.79">3</tspan><tspan dy="-0.79">C</tspan></text>
<text x="613.6" y="259.7" font-size="3.6" text-anchor="end">HO</text>
<text x="610.7" y="265.0" font-size="3.6" text-anchor="end">H<tspan font-size="2.59" dy="0.79">3</tspan><tspan dy="-0.79">C</tspan></text>
<text x="620.4" y="265.0" font-size="3.6" text-anchor="start">OH</text>
<text x="615.4" y="253.3" font-size="3.6" text-anchor="end">H<tspan font-size="2.59" dy="0.79">3</tspan><tspan dy="-0.79">C</tspan></text>
<text x="641.7" y="261.9" font-size="3.6" text-anchor="middle">O</text>
<text x="644.9" y="253.3" font-size="3.6" text-anchor="start">CH<tspan font-size="2.59" dy="0.79">3</tspan></text>
<text x="654.0" y="270.9" font-size="3.6" text-anchor="middle">N</text>
<text x="656.6" y="268.0" font-size="3.6" text-anchor="start">CH<tspan font-size="2.59" dy="0.79">3</tspan></text>
<text x="652.7" y="276.8" font-size="3.6" text-anchor="start">CH<tspan font-size="2.59" dy="0.79">3</tspan></text>
<text x="643.9" y="276.8" font-size="3.6" text-anchor="start">OH</text>
<text x="645.1" y="282.7" font-size="3.6" text-anchor="start">CH<tspan font-size="2.59" dy="0.79">3</tspan></text>
<text x="648.0" y="287.9" font-size="3.6" text-anchor="start">OCH<tspan font-size="2.59" dy="0.79">3</tspan></text>
<text x="646.3" y="296.8" font-size="3.6" text-anchor="start">OH</text>
<text x="638.6" y="302.6" font-size="3.6" text-anchor="start">CH<tspan font-size="2.59" dy="0.79">3</tspan></text>
<text x="635.6" y="293.8" font-size="3.6" text-anchor="middle">O</text>
</g>
<g stroke="#484848" fill="none" stroke-linecap="round" opacity="1">
<path stroke-width="0.95" d="M129.2 403.2L122.6 400.1M122.6 400.1L121.3 391.3M121.3 391.3L126.6 384.1M126.6 384.1L136.3 384.1M128.0 385.7L134.9 385.7M136.3 384.1L141.6 391.3M141.6 391.3L140.3 400.1M140.3 400.1L133.8 403.2M121.3 391.3L113.8 388.1M119.4 392.2L114.4 390.1M113.8 388.1L106.3 394.6M106.3 394.6L108.0 402.7M108.2 395.7L109.3 400.9M108.0 402.7L115.8 405.9M115.8 405.9L122.6 400.1M115.9 403.8L120.5 399.8M141.6 391.3L149.0 388.1M143.5 392.2L148.3 390.1M149.0 388.1L156.6 394.6M156.6 394.6L154.9 402.7M154.7 395.7L153.6 400.9M154.9 402.7L147.0 405.9M147.0 405.9L140.3 400.1M147.0 403.8L142.4 399.8M131.5 407.3L131.5 412.9M131.1 412.2L125.1 416.0M131.9 413.5L125.9 417.4M131.5 412.9L136.8 416.6"/>
</g>
<g font-family='"Liberation Sans", sans-serif' fill="#333" stroke="#333" stroke-width="0.28" opacity="1">
<text x="131.5" y="406.5" font-size="6.0" text-anchor="middle">N</text>
<text x="123.3" y="420.2" font-size="6.0" text-anchor="middle">O</text>
<text x="136.8" y="420.2" font-size="6.0" text-anchor="start">NH<tspan font-size="4.32" dy="1.32">2</tspan></text>
</g>
<g stroke="#484848" fill="none" stroke-linecap="round" opacity="1">
<path stroke-width="0.95" d="M194.1 398.0L200.5 394.3M201.3 394.3L201.3 387.0M199.7 394.3L199.7 387.0M200.5 394.3L209.4 399.2M209.4 399.2L209.4 408.7M207.8 400.6L207.8 407.2M209.4 408.7L202.6 412.4M198.5 412.4L192.0 408.7M191.6 408.0L185.5 411.6M192.4 409.4L186.3 413.0M192.0 408.7L192.0 401.7M209.4 399.2L215.8 396.2M219.2 397.4L223.1 404.0M223.1 404.0L219.2 410.1M221.0 404.3L217.9 409.3M215.7 411.3L209.4 408.7M218.8 392.9L220.2 389.7M190.0 398.0L185.7 395.5M200.5 416.1L200.5 421.4"/>
</g>
<g font-family='"Liberation Sans", sans-serif' fill="#333" stroke="#333" stroke-width="0.28" opacity="1">
<text x="192.0" y="401.1" font-size="5.4" text-anchor="middle">N</text>
<text x="200.5" y="386.3" font-size="5.4" text-anchor="middle">O</text>
<text x="200.5" y="415.5" font-size="5.4" text-anchor="middle">N</text>
<text x="183.9" y="415.5" font-size="5.4" text-anchor="middle">O</text>
<text x="217.9" y="397.2" font-size="5.4" text-anchor="middle">N</text>
<text x="217.9" y="414.2" font-size="5.4" text-anchor="middle">N</text>
<text x="219.2" y="389.3" font-size="5.4" text-anchor="start">CH<tspan font-size="3.89" dy="1.19">3</tspan></text>
<text x="185.6" y="396.3" font-size="5.4" text-anchor="end">H<tspan font-size="3.89" dy="1.19">3</tspan><tspan dy="-1.19">C</tspan></text>
<text x="198.6" y="425.9" font-size="5.4" text-anchor="start">CH<tspan font-size="3.89" dy="1.19">3</tspan></text>
</g>
<g stroke="#484848" fill="none" stroke-linecap="round" opacity="1">
<path stroke-width="0.95" d="M261.8 412.7L266.3 410.0M266.3 410.0L266.3 401.8M266.3 401.8L273.1 397.5M268.4 402.3L272.8 399.6M273.1 397.5L280.0 401.8M280.0 401.8L280.0 410.0M280.0 410.0L273.1 413.9M273.1 413.9L266.3 410.0M272.7 411.8L268.4 409.3M280.0 401.8L287.0 397.5M282.1 402.4L286.6 399.6M287.0 397.5L293.7 401.8M293.7 401.8L293.7 410.0M293.7 410.0L287.0 413.9M291.7 409.3L287.4 411.8M287.0 413.9L280.0 410.0M293.7 401.8L300.3 397.8M300.3 397.8L300.5 391.6M300.3 397.8L307.1 401.8M307.1 401.8L311.7 398.5M306.3 401.8L306.3 407.5M307.9 401.8L307.9 407.5"/>
</g>
<g font-family='"Liberation Sans", sans-serif' fill="#333" stroke="#333" stroke-width="0.28" opacity="1">
<text x="261.7" y="415.8" font-size="5.25" text-anchor="end">H<tspan font-size="3.78" dy="1.16">3</tspan><tspan dy="-1.16">CO</tspan></text>
<text x="298.6" y="391.0" font-size="5.25" text-anchor="start">CH<tspan font-size="3.78" dy="1.16">3</tspan></text>
<text x="311.7" y="399.1" font-size="5.25" text-anchor="start">OH</text>
<text x="307.1" y="411.9" font-size="5.25" text-anchor="middle">O</text>
</g>
<g stroke="#484848" fill="none" stroke-linecap="round" opacity="1">
<path stroke-width="0.95" d="M379.5 397.3L371.6 392.5M377.5 397.9L372.1 394.6M371.6 392.5L363.3 397.3M363.3 397.3L363.3 406.6M364.9 398.7L364.9 405.2M363.3 406.6L371.6 411.2M371.6 411.2L379.5 406.6M372.1 409.1L377.5 405.9M379.5 406.6L379.5 397.3M363.3 397.3L354.9 393.9M363.3 406.6L357.1 410.2M371.6 411.2L370.1 418.0M379.5 397.3L388.2 392.5M388.2 392.5L388.4 385.9M388.2 392.5L396.3 397.3M396.3 397.3L402.3 393.9M407.1 393.8L413.3 397.3M413.3 397.3L421.2 392.5M413.3 397.3L408.7 405.2M413.3 397.3L417.6 405.2"/>
</g>
<g font-family='"Liberation Sans", sans-serif' fill="#333" stroke="#333" stroke-width="0.28" opacity="1">
<text x="350.1" y="395.2" font-size="6.3" text-anchor="start">Cl</text>
<text x="357.0" y="413.9" font-size="6.3" text-anchor="end">H<tspan font-size="4.54" dy="1.39">2</tspan><tspan dy="-1.39">N</tspan></text>
<text x="367.2" y="423.2" font-size="6.3" text-anchor="start">Cl</text>
<text x="386.2" y="385.2" font-size="6.3" text-anchor="start">OH</text>
<text x="404.7" y="394.8" font-size="6.3" text-anchor="middle">N</text>
<text x="404.7" y="388.8" font-size="6.3" text-anchor="middle">H</text>
</g>
<g stroke="#5a5a5a" fill="none" stroke-linecap="round" opacity="1">
<path stroke-width="0.8" d="M460.9 405.4L453.7 401.1M458.8 406.1L454.1 403.2M453.7 401.1L446.1 405.4M446.1 405.4L446.1 413.1M447.7 406.9L447.7 411.6M446.1 413.1L453.7 417.4M453.7 417.4L460.9 413.1M454.1 415.2L458.8 412.4M460.9 413.1L460.9 405.4M453.7 401.1L453.4 396.2M460.9 413.1L465.2 415.6M460.9 405.4L466.6 402.3M471.0 402.3L476.7 405.4M476.7 405.4L484.3 401.1M484.3 401.1L492.0 405.4M484.8 403.2L490.0 406.1M492.0 405.4L492.0 413.1M492.0 413.1L484.3 417.4M490.0 412.4L484.8 415.3M484.3 417.4L476.7 413.1M476.7 413.1L476.7 405.4M478.3 411.6L478.3 406.9M484.3 401.1L484.3 393.7M484.3 393.7L491.7 389.4M492.5 389.4L492.5 383.8M490.9 389.4L490.9 383.8M491.7 389.4L496.5 392.3"/>
</g>
<g font-family='"Liberation Sans", sans-serif' fill="#444" stroke="#444" stroke-width="0.12" opacity="1">
<text x="451.2" y="395.5" font-size="5.8" text-anchor="start">Cl</text>
<text x="465.2" y="419.0" font-size="5.8" text-anchor="start">Cl</text>
<text x="468.8" y="403.2" font-size="5.8" text-anchor="middle">N</text>
<text x="491.7" y="383.1" font-size="5.8" text-anchor="middle">O</text>
<text x="496.6" y="395.8" font-size="5.8" text-anchor="start">ONa</text>
<text x="468.8" y="398.3" font-size="5.8" text-anchor="middle">H</text>
</g>
<g stroke="#5c5c5c" fill="none" stroke-linecap="round" opacity="1">
<path stroke-width="0.85" d="M542.9 392.9L551.6 397.7M543.4 395.0L549.5 398.4M551.6 397.7L551.6 407.3M551.6 407.3L542.9 412.3M549.5 406.7L543.4 410.2M542.9 412.3L534.3 407.3M534.3 407.3L534.3 397.7M535.9 405.9L535.9 399.1M534.3 397.7L542.9 392.9M542.9 392.9L542.9 382.9M542.9 412.3L542.9 422.4M551.6 397.7L558.0 394.1M562.3 394.1L568.8 397.7M568.8 397.7L577.4 392.9M577.4 392.9L586.7 397.7M586.7 397.7L596.1 392.9M596.1 392.9L591.1 384.3M596.1 392.9L600.8 384.3M596.1 392.9L604.7 397.7M605.1 398.4L611.5 394.8M604.3 397.0L610.8 393.4M604.7 397.7L604.7 405.0"/>
</g>
<g font-family='"Liberation Sans", sans-serif' fill="#444" stroke="#444" stroke-width="0.12" opacity="1">
<text x="560.2" y="395.0" font-size="5.7" text-anchor="middle">O</text>
<text x="613.3" y="395.0" font-size="5.7" text-anchor="middle">O</text>
<text x="602.6" y="409.8" font-size="5.7" text-anchor="start">OH</text>
</g>
<g stroke="#5c5c5c" fill="none" stroke-linecap="round" opacity="1">
<path stroke-width="0.85" d="M652.9 384.3L661.1 389.1M653.4 386.4L659.1 389.7M661.1 389.1L661.1 398.7M661.1 398.7L652.9 403.4M652.9 403.4L644.8 398.7M644.8 398.7L644.8 389.1M646.4 397.3L646.4 390.5M644.8 389.1L652.9 384.3M661.1 398.7L669.5 403.4M661.6 400.8L667.4 404.1M669.5 403.4L669.5 412.6M669.5 412.6L661.1 417.4M667.4 411.9L661.6 415.3M661.1 417.4L652.9 412.6M652.9 412.6L652.9 403.4M654.5 411.2L654.5 404.9M669.5 403.4L675.6 399.9M679.9 399.9L686.0 403.4M686.0 403.4L694.2 398.7M694.2 398.7L702.5 403.4M702.5 403.4L709.6 399.8M714.0 399.9L720.0 403.4M720.0 403.4L728.0 398.7M720.0 403.4L720.0 413.1"/>
<path fill="#5c5c5c" stroke="none" d="M694.2 398.7L695.5 392.1L692.8 392.1Z"/>
</g>
<g font-family='"Liberation Sans", sans-serif' fill="#444" stroke="#444" stroke-width="0.12" opacity="1">
<text x="677.8" y="400.7" font-size="5.7" text-anchor="middle">O</text>
<text x="692.1" y="391.4" font-size="5.7" text-anchor="start">OH</text>
<text x="711.8" y="400.7" font-size="5.7" text-anchor="middle">N</text>
<text x="711.8" y="395.0" font-size="5.7" text-anchor="middle">H</text>
</g>
<g stroke="#484848" fill="none" stroke-linecap="round" opacity="1">
<path stroke-width="0.95" d="M117.8 528.3L123.0 525.4M118.6 529.7L122.6 527.5M123.0 525.4L129.5 529.4M129.5 529.4L129.5 536.9M127.9 530.9L127.9 535.4M129.5 536.9L124.7 539.5M120.7 539.5L115.8 536.9M121.5 538.1L117.9 536.2M115.8 536.9L115.8 532.0M123.0 525.4L123.2 521.2M115.8 536.9L111.4 539.1M129.5 529.4L136.2 525.4M136.2 525.4L142.4 529.4M142.4 529.4L149.2 525.4M149.2 525.4L156.1 529.4M149.6 527.5L154.0 530.1M156.1 529.4L156.1 536.9M156.1 536.9L149.2 540.9M154.0 536.2L149.6 538.8M149.2 540.9L142.4 536.9M142.4 536.9L142.4 529.4M144.0 535.4L144.0 530.9M156.1 529.4L159.8 526.0M156.1 536.9L160.1 538.6M149.2 540.9L149.2 544.8"/>
</g>
<g font-family='"Liberation Sans", sans-serif' fill="#333" stroke="#333" stroke-width="0.28" opacity="1">
<text x="115.8" y="531.3" font-size="5.3" text-anchor="middle">N</text>
<text x="122.7" y="542.5" font-size="5.3" text-anchor="middle">N</text>
<text x="121.4" y="520.5" font-size="5.3" text-anchor="start">NH<tspan font-size="3.82" dy="1.17">2</tspan></text>
<text x="111.3" y="542.1" font-size="5.3" text-anchor="end">H<tspan font-size="3.82" dy="1.17">2</tspan><tspan dy="-1.17">N</tspan></text>
<text x="159.6" y="526.3" font-size="5.3" text-anchor="start">OCH<tspan font-size="3.82" dy="1.17">3</tspan></text>
<text x="160.3" y="541.4" font-size="5.3" text-anchor="start">OCH<tspan font-size="3.82" dy="1.17">3</tspan></text>
<text x="147.3" y="549.3" font-size="5.3" text-anchor="start">OCH<tspan font-size="3.82" dy="1.17">3</tspan></text>
</g>
<g stroke="#484848" fill="none" stroke-linecap="round" opacity="1">
<path stroke-width="0.95" d="M222.1 541.1L227.3 538.3M227.3 538.3L227.3 529.7M227.3 529.7L234.8 525.4M229.3 530.4L234.3 527.5M234.8 525.4L242.4 529.7M242.4 529.7L242.4 538.3M240.8 531.1L240.8 536.9M242.4 538.3L234.8 542.6M234.8 542.6L227.3 538.3M234.3 540.5L229.3 537.6M242.4 529.7L247.9 526.7M251.1 522.5L251.1 520.1M249.5 522.5L249.5 520.1M249.5 528.3L249.5 530.8M251.1 528.3L251.1 530.8M252.8 525.4L257.0 525.4M261.1 527.8L264.3 533.0M264.3 533.0L272.5 532.3M272.5 532.3L275.4 539.5M271.6 534.2L273.4 538.7M275.4 539.5L270.9 543.4M266.6 543.9L263.7 542.2M262.4 538.2L264.3 533.0M263.9 538.7L265.3 534.9M275.4 539.5L282.3 542.5"/>
</g>
<g font-family='"Liberation Sans", sans-serif' fill="#333" stroke="#333" stroke-width="0.28" opacity="1">
<text x="222.0" y="544.5" font-size="6.1" text-anchor="end">H<tspan font-size="4.39" dy="1.34">2</tspan><tspan dy="-1.34">N</tspan></text>
<text x="250.3" y="527.6" font-size="6.1" text-anchor="middle">S</text>
<text x="250.3" y="519.4" font-size="6.1" text-anchor="middle">O</text>
<text x="250.3" y="535.9" font-size="6.1" text-anchor="middle">O</text>
<text x="257.4" y="527.6" font-size="6.1" text-anchor="start">NH</text>
<text x="268.9" y="547.4" font-size="6.1" text-anchor="middle">O</text>
<text x="261.5" y="543.1" font-size="6.1" text-anchor="middle">N</text>
<text x="282.5" y="545.7" font-size="6.1" text-anchor="start">CH<tspan font-size="4.39" dy="1.34">3</tspan></text>
</g>
<g stroke="#484848" fill="none" stroke-linecap="round" opacity="1">
<path stroke-width="0.95" d="M374.3 526.3L370.9 521.3M374.3 526.3L377.0 521.5M374.3 526.3L365.7 530.8M365.7 530.8L356.6 525.8M356.6 525.8L347.6 530.8M356.1 527.9L349.6 531.5M347.6 530.8L347.6 538.7M347.6 538.7L356.6 543.5M349.6 538.0L356.1 541.4M356.6 543.5L365.7 538.7M365.7 538.7L365.7 530.8M364.1 537.3L364.1 532.3M347.6 538.7L342.5 541.6M374.3 526.3L383.2 530.8M383.2 530.8L391.8 525.8M385.2 531.5L391.4 527.9M391.8 525.8L400.7 530.8M400.7 530.8L400.7 538.7M399.1 532.3L399.1 537.3M400.7 538.7L391.8 543.5M391.8 543.5L383.2 538.7M391.3 541.4L385.2 538.0M383.2 538.7L383.2 530.8M400.7 538.7L405.7 541.6"/>
</g>
<g font-family='"Liberation Sans", sans-serif' fill="#333" stroke="#333" stroke-width="0.28" opacity="1">
<text x="371.6" y="521.2" font-size="7.0" text-anchor="end">H<tspan font-size="5.04" dy="1.54">3</tspan><tspan dy="-1.54">C</tspan></text>
<text x="376.1" y="521.2" font-size="7.0" text-anchor="start">CH<tspan font-size="5.04" dy="1.54">3</tspan></text>
<text x="342.3" y="545.6" font-size="7.0" text-anchor="end">HO</text>
<text x="405.8" y="545.6" font-size="7.0" text-anchor="start">OH</text>
</g>
<g stroke="#484848" fill="none" stroke-linecap="round" opacity="1">
<path stroke-width="0.95" d="M495.6 529.3L487.0 524.6M493.6 530.0L487.5 526.7M487.0 524.6L478.4 529.3M478.4 529.3L478.4 538.7M480.0 530.7L480.0 537.2M478.4 538.7L487.0 543.4M487.0 543.4L495.6 538.7M487.5 541.3L493.6 538.0M495.6 538.7L495.6 529.3M478.4 529.3L470.5 524.6M470.5 524.6L465.2 528.0M478.4 538.7L473.9 541.6M495.6 529.3L504.2 524.6M504.2 524.6L504.2 518.3M504.2 524.6L512.8 529.3M512.8 529.3L518.6 525.8M522.8 525.8L529.3 529.8M529.3 529.8L537.4 524.6M529.3 529.8L524.6 537.1M529.3 529.8L533.7 537.1"/>
</g>
<g font-family='"Liberation Sans", sans-serif' fill="#333" stroke="#333" stroke-width="0.28" opacity="1">
<text x="465.2" y="531.3" font-size="5.6" text-anchor="end">HO</text>
<text x="473.8" y="544.9" font-size="5.6" text-anchor="end">HO</text>
<text x="502.2" y="517.7" font-size="5.6" text-anchor="start">OH</text>
<text x="520.7" y="526.6" font-size="5.6" text-anchor="middle">N</text>
<text x="520.7" y="521.4" font-size="5.6" text-anchor="middle">H</text>
</g>
<g stroke="#484848" fill="none" stroke-linecap="round" opacity="1">
<path stroke-width="0.95" d="M591.8 517.7L597.3 521.1M597.3 521.1L605.2 516.3M599.4 521.7L604.8 518.4M605.2 516.3L613.7 521.1M613.7 521.1L613.7 530.2M612.1 522.5L612.1 528.8M613.7 530.2L605.2 535.2M605.2 535.2L597.3 530.2M604.8 533.0L599.4 529.6M597.3 530.2L597.3 521.1M613.7 530.2L622.2 535.2M622.2 535.2L630.7 530.2M630.7 530.2L639.0 535.2M639.0 535.2L639.0 544.8M639.0 535.2L645.5 531.5M649.9 531.6L655.8 535.2M655.8 535.2L664.6 530.2M664.6 530.2L664.6 523.9M664.6 530.2L672.8 535.2M672.8 535.2L681.0 530.2M674.8 535.8L680.6 532.3M681.0 530.2L689.2 535.2M689.2 535.2L689.2 544.3M687.6 536.6L687.6 542.9M689.2 544.3L681.0 549.2M681.0 549.2L672.8 544.3M680.6 547.1L674.8 543.7M672.8 544.3L672.8 535.2M689.2 544.3L694.8 547.8"/>
</g>
<g font-family='"Liberation Sans", sans-serif' fill="#333" stroke="#333" stroke-width="0.28" opacity="1">
<text x="591.7" y="518.5" font-size="5.9" text-anchor="end">HO</text>
<text x="647.7" y="532.3" font-size="5.9" text-anchor="middle">N</text>
<text x="662.4" y="523.2" font-size="5.9" text-anchor="start">OH</text>
<text x="694.8" y="551.4" font-size="5.9" text-anchor="start">OH</text>
<text x="647.7" y="526.9" font-size="5.9" text-anchor="middle">H</text>
</g>
</svg></body></html>
